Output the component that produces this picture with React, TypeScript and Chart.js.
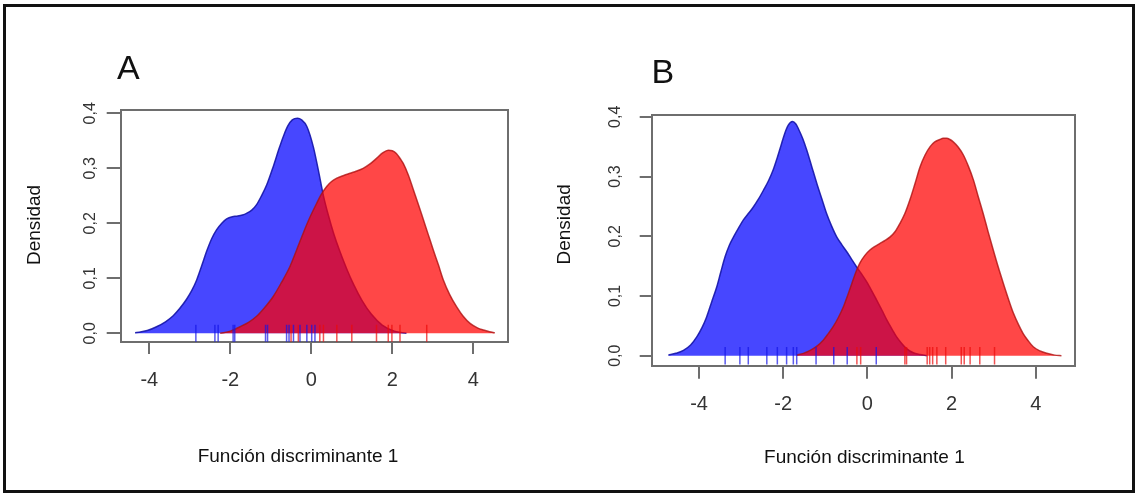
import React, { useEffect, useRef } from "react";
import { Chart, registerables } from "chart.js";

Chart.register(...registerables);

// ---------------- data ----------------
const xTickValues = [-4, -2, 0, 2, 4];
const xTickLabels = ["-4", "-2", "0", "2", "4"];
const yTickValues = [0, 0.1, 0.2, 0.3, 0.4];
const yTickLabels = ["0,0", "0,1", "0,2", "0,3", "0,4"];
const xTitle = "Función discriminante 1";
const yTitle = "Densidad";

// Panel A density curves [x, density]
const blueA = [
  [-4.35, 0.001], [-4.05, 0.005], [-3.82, 0.012], [-3.6, 0.021], [-3.41, 0.032],
  [-3.25, 0.045], [-3.08, 0.062], [-2.95, 0.078], [-2.83, 0.097], [-2.7, 0.124],
  [-2.58, 0.15], [-2.46, 0.172], [-2.34, 0.188], [-2.21, 0.2], [-2.09, 0.208],
  [-1.95, 0.212], [-1.84, 0.213], [-1.7, 0.215], [-1.6, 0.218], [-1.47, 0.224],
  [-1.35, 0.234], [-1.23, 0.25], [-1.1, 0.27], [-0.94, 0.303], [-0.8, 0.335],
  [-0.69, 0.358], [-0.58, 0.377], [-0.47, 0.388], [-0.34, 0.391], [-0.24, 0.388],
  [-0.11, 0.376], [0.05, 0.339], [0.17, 0.298], [0.3, 0.25], [0.42, 0.215],
  [0.55, 0.182], [0.7, 0.15], [0.87, 0.118], [1.05, 0.088], [1.25, 0.06],
  [1.48, 0.035], [1.75, 0.015], [2.05, 0.004], [2.35, 0.0],
];
const redA = [
  [-2.25, 0.0], [-2.0, 0.004], [-1.76, 0.012], [-1.55, 0.02], [-1.35, 0.031],
  [-1.15, 0.047], [-0.94, 0.067], [-0.74, 0.092], [-0.53, 0.121], [-0.36, 0.152],
  [-0.2, 0.182], [-0.04, 0.21], [0.13, 0.236], [0.25, 0.253], [0.38, 0.267],
  [0.5, 0.276], [0.63, 0.282], [0.8, 0.287], [0.96, 0.291], [1.12, 0.295],
  [1.28, 0.3], [1.45, 0.308], [1.61, 0.318], [1.76, 0.328], [1.9, 0.333],
  [2.0, 0.332], [2.1, 0.327], [2.2, 0.317], [2.27, 0.309], [2.4, 0.287],
  [2.52, 0.261], [2.65, 0.233], [2.77, 0.206], [2.89, 0.179], [3.01, 0.152],
  [3.14, 0.124], [3.26, 0.097], [3.42, 0.07], [3.59, 0.048], [3.75, 0.031],
  [3.92, 0.018], [4.1, 0.01], [4.25, 0.006], [4.4, 0.003], [4.53, 0.001],
];
const rugBlueA = [-2.85, -2.38, -2.3, -1.93, -1.89, -1.13, -1.08, -0.61, -0.55, -0.44, -0.28, -0.11, 0.01, 0.09];
const rugRedA = [-0.5, -0.32, 0.21, 0.3, 0.63, 1.0, 1.61, 1.9, 1.99, 2.19, 2.85];

// Panel B density curves [x, density]
const blueB = [
  [-4.73, 0.001], [-4.55, 0.004], [-4.37, 0.009], [-4.2, 0.018], [-4.05, 0.032],
  [-3.93, 0.047], [-3.82, 0.065], [-3.7, 0.09], [-3.58, 0.115], [-3.48, 0.141],
  [-3.38, 0.166], [-3.28, 0.185], [-3.18, 0.199], [-3.06, 0.214], [-2.95, 0.227],
  [-2.83, 0.238], [-2.71, 0.249], [-2.59, 0.262], [-2.47, 0.277], [-2.35, 0.293],
  [-2.24, 0.311], [-2.14, 0.332], [-2.04, 0.355], [-1.96, 0.373], [-1.88, 0.386],
  [-1.78, 0.392], [-1.7, 0.388], [-1.64, 0.38], [-1.54, 0.364], [-1.44, 0.344],
  [-1.32, 0.316], [-1.2, 0.288], [-1.08, 0.262], [-0.97, 0.238], [-0.85, 0.217],
  [-0.73, 0.199], [-0.61, 0.186], [-0.49, 0.174], [-0.37, 0.161], [-0.26, 0.149],
  [-0.14, 0.137], [-0.02, 0.124], [0.1, 0.109], [0.22, 0.093], [0.34, 0.077],
  [0.46, 0.06], [0.58, 0.045], [0.69, 0.032], [0.81, 0.021], [0.93, 0.012],
  [1.09, 0.005], [1.25, 0.002], [1.41, 0.0],
];
const redB = [
  [-1.68, 0.001], [-1.52, 0.004], [-1.36, 0.009], [-1.2, 0.016], [-1.05, 0.026],
  [-0.93, 0.037], [-0.81, 0.049], [-0.69, 0.064], [-0.57, 0.082], [-0.47, 0.101],
  [-0.37, 0.121], [-0.28, 0.139], [-0.18, 0.155], [-0.06, 0.168], [0.06, 0.177],
  [0.18, 0.183], [0.3, 0.188], [0.42, 0.193], [0.54, 0.199], [0.66, 0.208],
  [0.77, 0.221], [0.89, 0.238], [1.01, 0.261], [1.13, 0.288], [1.25, 0.316],
  [1.37, 0.336], [1.49, 0.35], [1.6, 0.358], [1.72, 0.362], [1.8, 0.364],
  [1.88, 0.364], [1.96, 0.362], [2.04, 0.358], [2.16, 0.349], [2.28, 0.336],
  [2.4, 0.317], [2.52, 0.294], [2.63, 0.267], [2.75, 0.238], [2.87, 0.207],
  [2.99, 0.177], [3.11, 0.148], [3.23, 0.121], [3.35, 0.095], [3.47, 0.071],
  [3.59, 0.052], [3.7, 0.037], [3.82, 0.025], [3.94, 0.015], [4.1, 0.008],
  [4.26, 0.004], [4.45, 0.001], [4.61, 0.0],
];
const rugBlueB = [-3.38, -3.03, -2.83, -2.39, -2.14, -1.92, -1.76, -1.68, -1.22, -0.8, -0.48, 0.21];
const rugRedB = [-0.25, -0.16, 0.89, 0.93, 1.42, 1.48, 1.55, 1.65, 1.86, 2.23, 2.3, 2.44, 2.67, 3.02];

// ---------------- styling ----------------
const FONT = "'Liberation Sans', Arial, Helvetica, sans-serif";
const AXIS_COLOR = "#6e6e6e";
const BLUE_FILL = "rgba(0,0,255,0.72)";
const RED_FILL = "rgba(255,0,0,0.72)";
const BLUE_LINE = "rgba(20,20,170,0.9)";
const RED_LINE = "rgba(175,15,15,0.8)";
const BLUE_RUG = "rgba(20,20,230,0.7)";
const RED_RUG = "rgba(235,10,10,0.7)";

// Draws the panel letter and the axis titles relative to the chart area.
const panelText = {
  id: "panelText",
  afterDraw(chart: any, _args: any, o: any) {
    const { ctx, chartArea: ca } = chart;
    ctx.save();
    ctx.fillStyle = "#111";
    ctx.textBaseline = "middle";
    ctx.font = `normal 34px ${FONT}`;
    ctx.textAlign = "left";
    ctx.fillText(o.letter, ca.left + o.letterDx, ca.top + o.letterDy);
    ctx.font = `normal 19px ${FONT}`;
    ctx.textAlign = "center";
    ctx.fillText(o.xTitle, (ca.left + ca.right) / 2 + o.xTitleDx, ca.bottom + o.xTitleDy);
    ctx.translate(ca.left + o.yTitleDx, (ca.top + ca.bottom) / 2 + o.yTitleDy);
    ctx.rotate(-Math.PI / 2);
    ctx.fillText(o.yTitle, 0, 0);
    ctx.restore();
  },
};

type PanelOpts = {
  letter: string;
  blue: number[][];
  red: number[][];
  rugBlue: number[];
  rugRed: number[];
  xMin: number; xMax: number; yMin: number; yMax: number;
  pad: { left: number; right: number; top: number; bottom: number };
  yAxisWidth: number;
  xAxisHeight: number;
  xTickLen: number; xTickPad: number;
  yTickLen: number; yTickPad: number;
  rugRadius: number;
  text: { letterDx: number; letterDy: number; xTitleDx: number; xTitleDy: number; yTitleDx: number; yTitleDy: number };
};

function makeConfig(o: PanelOpts): any {
  const toPts = (arr: number[][]) => arr.map(([x, y]) => ({ x, y }));
  const rugPts = (arr: number[]) => arr.map((x) => ({ x, y: 0 }));
  const curve = (data: any, fillC: string, lineC: string, order: number) => ({
    type: "line",
    data,
    backgroundColor: fillC,
    borderColor: lineC,
    borderWidth: 1.5,
    fill: "origin",
    pointRadius: 0,
    cubicInterpolationMode: "monotone",
    order,
  });
  const rug = (data: any, color: string, order: number) => ({
    type: "line",
    data,
    showLine: false,
    pointStyle: "line",
    pointRotation: 90,
    pointRadius: o.rugRadius,
    pointBorderColor: color,
    pointBackgroundColor: color,
    pointBorderWidth: 1.5,
    order,
  });
  const boxEdge = (axis: string, position: string, horizontal: boolean) => ({
    type: "linear",
    axis,
    position,
    display: true,
    ticks: { display: false },
    grid: { drawOnChartArea: false, drawTicks: false, color: AXIS_COLOR, lineWidth: 2 },
    border: { display: true, color: AXIS_COLOR, width: 2 },
    afterFit: (s: any) => {
      if (horizontal) s.height = 0;
      else s.width = 0;
    },
  });
  return {
    type: "line",
    data: {
      datasets: [
        curve(toPts(o.red), RED_FILL, RED_LINE, 1),
        curve(toPts(o.blue), BLUE_FILL, BLUE_LINE, 2),
        rug(rugPts(o.rugRed), RED_RUG, -2),
        rug(rugPts(o.rugBlue), BLUE_RUG, -1),
      ],
    },
    plugins: [panelText],
    options: {
      animation: false,
      responsive: false,
      devicePixelRatio: 1,
      events: [],
      layout: { padding: o.pad },
      plugins: {
        legend: { display: false },
        tooltip: { enabled: false },
        title: { display: false },
        panelText: { letter: o.letter, xTitle, yTitle, ...o.text },
      },
      scales: {
        x: {
          type: "linear",
          position: "bottom",
          min: o.xMin,
          max: o.xMax,
          afterBuildTicks: (s: any) => {
            s.ticks = xTickValues.map((v) => ({ value: v }));
          },
          afterFit: (s: any) => {
            s.height = o.xAxisHeight;
          },
          ticks: {
            autoSkip: false,
            maxRotation: 0,
            minRotation: 0,
            padding: o.xTickPad,
            color: "#333",
            font: { family: FONT, size: 20 },
            callback: (_v: any, i: number) => xTickLabels[i],
          },
          grid: {
            drawOnChartArea: false,
            drawTicks: true,
            tickLength: o.xTickLen,
            color: AXIS_COLOR,
            lineWidth: 2,
          },
          border: { display: true, color: AXIS_COLOR, width: 2 },
        },
        y: {
          type: "linear",
          position: "left",
          min: o.yMin,
          max: o.yMax,
          afterBuildTicks: (s: any) => {
            s.ticks = yTickValues.map((v) => ({ value: v }));
          },
          afterFit: (s: any) => {
            s.width = o.yAxisWidth;
          },
          ticks: {
            autoSkip: false,
            minRotation: 90,
            maxRotation: 90,
            crossAlign: "center",
            padding: o.yTickPad,
            color: "#333",
            font: { family: FONT, size: 16 },
            callback: (_v: any, i: number) => yTickLabels[i],
          },
          grid: {
            drawOnChartArea: false,
            drawTicks: true,
            tickLength: o.yTickLen,
            color: AXIS_COLOR,
            lineWidth: 2,
          },
          border: { display: true, color: AXIS_COLOR, width: 2 },
        },
        xTop: boxEdge("x", "top", true),
        yRight: boxEdge("y", "right", false),
      },
    },
  };
}

const panelA: PanelOpts = {
  letter: "A",
  blue: blueA,
  red: redA,
  rugBlue: rugBlueA,
  rugRed: rugRedA,
  xMin: -4.706, xMax: 4.864, yMin: -0.0156, yMax: 0.406,
  pad: { left: 10, right: 31.7, top: 110, bottom: 5 },
  yAxisWidth: 110.7,
  xAxisHeight: 146.1,
  xTickLen: 12, xTickPad: 14.1,
  yTickLen: 14, yTickPad: 4.6,
  rugRadius: 8.5,
  text: { letterDx: -3.7, letterDy: -40, xTitleDx: -16.5, xTitleDy: 115, yTitleDx: -86.2, yTitleDy: -1 },
};

const panelB: PanelOpts = {
  letter: "B",
  blue: blueB,
  red: redB,
  rugBlue: rugBlueB,
  rugRed: rugRedB,
  xMin: -5.125, xMax: 4.932, yMin: -0.0167, yMax: 0.403,
  pad: { left: 5, right: 62, top: 115, bottom: 5 },
  yAxisWidth: 106.7,
  xAxisHeight: 122.3,
  xTickLen: 13, xTickPad: 13.3,
  yTickLen: 12, yTickPad: 13.3,
  rugRadius: 8.8,
  text: { letterDx: -0.2, letterDy: -41, xTitleDx: 1.1, xTitleDy: 92.3, yTitleDx: -86.7, yTitleDy: -16 },
};

function Panel({ opts, left, width }: { opts: PanelOpts; left: number; width: number }) {
  const ref = useRef<HTMLCanvasElement | null>(null);
  useEffect(() => {
    if (!ref.current) return;
    const chart = new Chart(ref.current, makeConfig(opts));
    return () => chart.destroy();
  }, [opts]);
  return (
    <canvas
      ref={ref}
      width={width}
      height={493}
      style={{ position: "absolute", left, top: 0, width, height: 493 }}
    />
  );
}

export default function App() {
  return (
    <div
      style={{
        position: "absolute",
        left: 0,
        top: 0,
        width: 1137,
        height: 493,
        background: "#fff",
        overflow: "hidden",
      }}
    >
      <Panel opts={panelA} left={0} width={540} />
      <Panel opts={panelB} left={540} width={597} />
      <div
        style={{
          position: "absolute",
          left: 3,
          top: 4,
          width: 1132,
          height: 489,
          boxSizing: "border-box",
          border: "3px solid #111",
          pointerEvents: "none",
        }}
      />
    </div>
  );
}
